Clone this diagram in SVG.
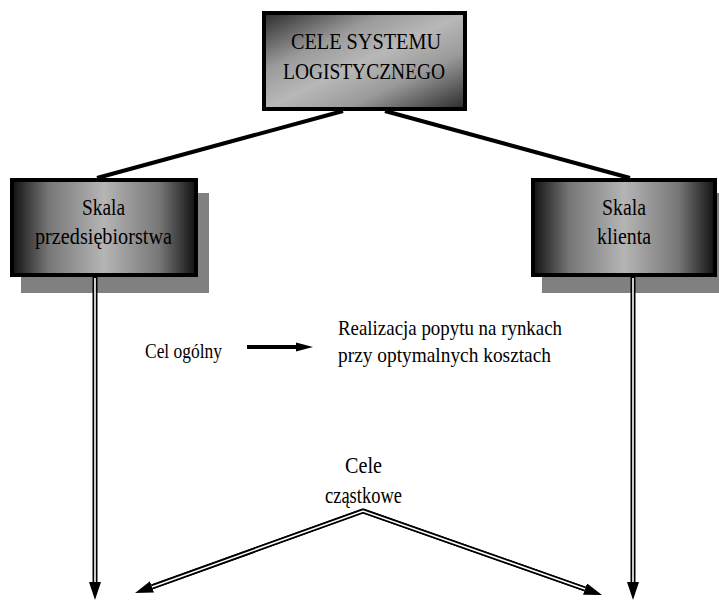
<svg xmlns="http://www.w3.org/2000/svg" width="719" height="601" viewBox="0 0 719 601">
<defs>
<linearGradient id="gTop" x1="0" y1="0" x2="1" y2="1">
<stop offset="0" stop-color="#2a2a2a"/>
<stop offset="0.3" stop-color="#9a9a9a"/>
<stop offset="0.5" stop-color="#b8b8b8"/>
<stop offset="0.7" stop-color="#9a9a9a"/>
<stop offset="1" stop-color="#2a2a2a"/>
</linearGradient>
<linearGradient id="gSide" x1="0" y1="0" x2="1" y2="0">
<stop offset="0" stop-color="#111"/>
<stop offset="0.2" stop-color="#777"/>
<stop offset="0.5" stop-color="#b5b5b5"/>
<stop offset="0.8" stop-color="#777"/>
<stop offset="1" stop-color="#111"/>
</linearGradient>
<marker id="ah" markerWidth="18" markerHeight="12" refX="0" refY="6" orient="auto" markerUnits="userSpaceOnUse">
<path d="M0,0 L18,6 L0,12 Z" fill="#000"/>
</marker>
</defs>
<style>
.box{stroke:#000;stroke-width:4}
.shadow{fill:#808080}
.t{font-family:"Liberation Serif","DejaVu Serif",serif;fill:#000;text-anchor:start}
.outer{fill:none;stroke:#000;stroke-width:5;stroke-linejoin:miter}
.inner{fill:none;stroke:#fff;stroke-width:1.6;stroke-linejoin:miter}
.thick{stroke:#000;stroke-width:4;fill:none}
</style>
<g id="node-top">
<rect class="box" x="264" y="13" width="201" height="96" fill="url(#gTop)"/>
<text class="t" x="291" y="49" font-size="24" textLength="150" lengthAdjust="spacingAndGlyphs">CELE  SYSTEMU</text>
<text class="t" x="283" y="79" font-size="24" textLength="162" lengthAdjust="spacingAndGlyphs">LOGISTYCZNEGO</text>
</g>
<g id="node-left">
<rect class="shadow" x="21" y="193" width="188" height="100"/>
<rect class="box" x="12" y="180" width="184" height="95" fill="url(#gSide)"/>
<text class="t" x="82" y="215" font-size="23" textLength="43" lengthAdjust="spacingAndGlyphs">Skala</text>
<text class="t" x="35" y="244" font-size="23" textLength="137" lengthAdjust="spacingAndGlyphs">przedsiębiorstwa</text>
</g>
<g id="node-right">
<rect class="shadow" x="542" y="193" width="190" height="100"/>
<rect class="box" x="533" y="180" width="182" height="95" fill="url(#gSide)"/>
<text class="t" x="602" y="215" font-size="23" textLength="44" lengthAdjust="spacingAndGlyphs">Skala</text>
<text class="t" x="597" y="244" font-size="23" textLength="54" lengthAdjust="spacingAndGlyphs">klienta</text>
</g>
<g id="label-ogolny">
<text class="t" x="145" y="358" font-size="20" textLength="77" lengthAdjust="spacingAndGlyphs">Cel ogólny</text>
</g>
<g id="label-realizacja">
<text class="t" x="338" y="335" font-size="21" textLength="224" lengthAdjust="spacingAndGlyphs">Realizacja popytu na rynkach</text>
<text class="t" x="338" y="362" font-size="21" textLength="213" lengthAdjust="spacingAndGlyphs">przy optymalnych kosztach</text>
</g>
<g id="label-czastkowe">
<text class="t" x="345" y="473" font-size="23" textLength="37" lengthAdjust="spacingAndGlyphs">Cele</text>
<text class="t" x="325" y="503" font-size="23" textLength="77" lengthAdjust="spacingAndGlyphs">cząstkowe</text>
</g>
<g id="connectors">
<line class="thick" x1="343" y1="111" x2="97" y2="178"/>
<line class="thick" x1="385" y1="111" x2="630" y2="178"/>
<line class="thick" x1="247" y1="347" x2="298" y2="347"/>
<polygon points="296,342.5 313,347 296,351.5" fill="#000"/>
<path class="outer" d="M95,277 L95,582" marker-end="url(#ah)"/>
<path class="inner" d="M95,278 L95,582"/>
<path class="outer" d="M633,277 L633,582" marker-end="url(#ah)"/>
<path class="inner" d="M633,278 L633,582"/>
<path class="outer" d="M152,586.9 L363,511 L585,589"/>
<path class="outer" d="M363,511 L152,586.9" marker-end="url(#ah)"/>
<path class="outer" d="M363,511 L585,589" marker-end="url(#ah)"/>
<path class="inner" d="M152,586.9 L363,511 L585,589"/>
</g>
</svg>
